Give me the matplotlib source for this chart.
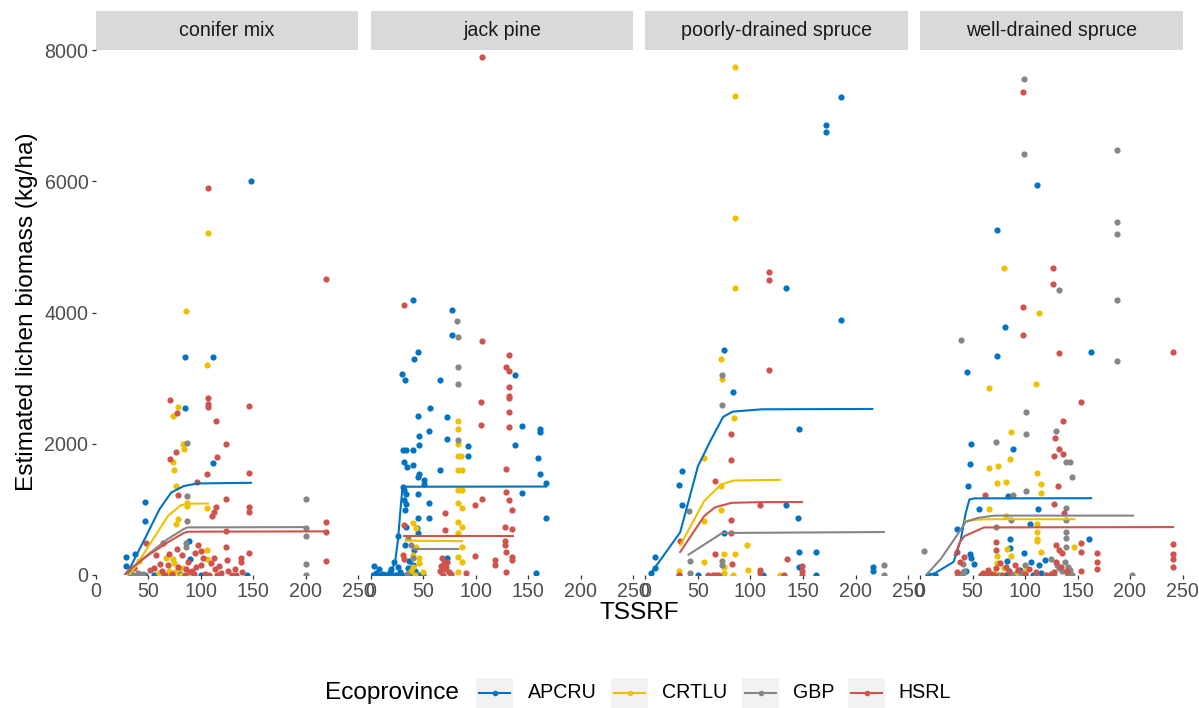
import matplotlib.pyplot as plt
from matplotlib.patches import Rectangle

plt.rcParams['font.family'] = ['Liberation Sans', 'DejaVu Sans']

# Categorias
facetas = ['conifer mix', 'jack pine', 'poorly-drained spruce', 'well-drained spruce']
provincias = ['APCRU', 'CRTLU', 'GBP', 'HSRL']
cores = ['#0073C2', '#EFC000', '#868686', '#CD534C']
x_ticks = [0, 50, 100, 150, 200, 250]
y_ticks = [0, 2000, 4000, 6000, 8000]

# ---- conifer mix: pontos (TSSRF, biomassa) ----
cm_apcru = [(148, 6000), (85, 3320), (112, 3320), (85, 2550), (112, 1710), (47, 1120), (47, 820),
            (29, 270), (38, 320), (29, 140), (89, 520), (90, 250), (47, 0), (56, 0), (73, 0),
            (144, 0), (40, 0), (100, 0), (33, 40), (62, 0), (80, 20)]
cm_crtlu = [(107, 5210), (86, 4020), (106, 3195), (79, 2560), (74, 2420), (83, 1997), (84, 1917),
            (74, 1716), (75, 1606), (77, 1355), (87, 1100), (87, 1044), (106, 1014), (79, 854),
            (77, 779), (106, 374), (106, 238), (74, 250), (75, 190), (79, 102), (83, 102), (81, 0),
            (41, 214), (67, 255), (70, 60), (72, 0), (60, 30), (76, 40)]
cm_gbp = [(87, 2010), (87, 1200), (87, 830), (86, 493), (86, 428), (200, 1160), (200, 710),
          (200, 590), (200, 165), (200, 0), (36, 0), (40, 30), (33, 0), (45, 10)]
cm_hsrl = [(107.5, 5900), (219.5, 4510), (71, 2660), (78, 2465), (107.5, 2700), (107.5, 2600),
           (107.5, 2560), (146.5, 2580), (115, 2350), (124.5, 2000), (71, 1770), (77, 1880),
           (115.5, 1795), (106, 1540), (146.5, 1560), (97, 1415), (78.6, 1225), (124.5, 1165),
           (115, 1030), (112.6, 956), (111, 896), (146.5, 1030), (146.5, 965), (219.5, 805),
           (219.5, 655), (219.5, 220), (124.5, 666), (124.5, 426), (97.5, 453), (100, 366),
           (95, 330), (146.5, 341), (139, 266), (139, 200), (133, 95), (125, 230), (114, 95),
           (112.6, 266), (100, 150), (78, 393), (64, 493), (48, 493), (57.7, 311), (61.8, 175),
           (68.7, 150), (78.7, 125), (56, 100), (37, 100), (90, 40), (85, 0), (104, 20),
           (120, 30), (130, 0), (66, 0), (73, 10), (92, 60), (108, 0), (118, 140), (140, 40),
           (52, 80), (88, 200), (96, 120), (102, 260), (110, 180), (86, 90), (94, 10), (116, 0),
           (70, 320), (82, 300), (126, 60), (134, 0), (63, 60)]

# ---- jack pine ----
jp_apcru = [(40.4, 4187), (77.4, 4040), (77.4, 3656), (44.6, 3392), (40.8, 3291), (29.6, 3063),
            (32.8, 2977), (66, 2977), (56.4, 2552), (44.6, 2430), (72.3, 2405), (55.7, 2192),
            (45.5, 2116), (72.3, 2066), (45.5, 1975), (92.4, 1960), (92.4, 1808), (30.3, 1909),
            (33.4, 1909), (39.8, 1899), (31.8, 1722), (34, 1646), (39.8, 1671), (44.6, 1494),
            (51, 1453), (51, 1392), (46, 1544), (66.2, 1605), (144, 2263), (161, 2177),
            (161, 2228), (137, 3048), (137, 1975), (159, 1782), (161.5, 1544), (166.5, 1408),
            (144, 1256), (166.5, 861), (30.3, 1342), (31.8, 1291), (33.4, 1240), (31.8, 1139),
            (33.4, 1088), (32.8, 987), (44.6, 1240), (55.7, 1099), (55, 861), (44.6, 861),
            (44, 709), (25.5, 592), (33.4, 734), (44.6, 633), (33, 456), (41.4, 380), (22.3, 203),
            (19, 90), (8, 90), (3, 130), (5, 30), (10, 0), (15, 0), (24, 0), (28, 50), (35, 100),
            (38, 0), (42, 60), (47, 0), (50, 20), (72.3, 253), (157, 25), (12, 20), (18, 40),
            (2, 0), (26, 120), (30, 0), (36, 220), (40, 150), (44, 0), (21, 0)]
jp_crtlu = [(82.8, 2354), (82.8, 2218), (82.8, 1990), (82.8, 1808), (86, 1808), (82.8, 1595),
            (87, 1595), (82.8, 1301), (87, 1301), (82.8, 1099), (87, 1028), (82.8, 810), (87, 734),
            (82.8, 633), (87, 430), (82.8, 278), (87, 203), (82.8, 51), (39.8, 795), (43, 709),
            (43, 430), (39.8, 304), (46, 253), (46, 177), (39.8, 127), (49.4, 51), (38, 60),
            (42, 0)]
jp_gbp = [(82, 3873), (82.8, 3620), (82.8, 3175), (82.8, 2911), (82.8, 2060), (39.8, 253),
          (35, 557), (38.2, 456), (34, 20)]
jp_hsrl = [(106, 7895), (31.2, 4117), (105.7, 3570), (131.5, 3357), (129, 3175), (131.5, 3114),
           (131.5, 2861), (131.5, 2734), (131.5, 2694), (131.5, 2481), (131.5, 2253), (105, 2633),
           (105, 2289), (129, 1620), (129, 1266), (132, 1139), (134.4, 987), (105.7, 1165),
           (99.7, 1063), (71, 952), (31.2, 759), (71, 684), (127.4, 734), (134.7, 694),
           (127.4, 521), (127.4, 456), (128.3, 354), (134.7, 278), (134.7, 228), (118, 228),
           (118, 152), (99.7, 294), (128.3, 51), (90.8, 35), (31, 304), (32, 250), (68, 253),
           (70, 180), (72, 120), (66, 60), (74, 40), (69, 0), (76, 20), (71, 90), (67, 140),
           (73, 200)]

# ---- poorly-drained spruce ----
pd_apcru = [(186, 7280), (172, 6860), (172, 6755), (134, 4380), (186, 3885), (74.6, 3430),
            (83, 2785), (146, 2220), (35, 1590), (31.7, 1370), (35, 1065), (134, 1065), (145, 875),
            (74.6, 640), (146, 350), (162.5, 350), (9, 280), (9, 105), (5, 30), (217, 115),
            (217, 58), (146, 115), (162.5, 0), (32, 0), (50, 0), (112, 0), (74, 0)]
pd_crtlu = [(85.7, 7740), (85.7, 7300), (85.7, 5440), (85.7, 4380), (72, 3290), (73, 2980),
            (84, 2395), (56, 1780), (72, 1355), (56, 820), (72, 995), (97, 455), (75, 320),
            (85.7, 320), (56, 205), (75, 115), (97.5, 70), (83, 0), (32, 60), (128, 0), (75, 30)]
pd_gbp = [(73, 3050), (73, 2590), (41, 975), (42, 220), (73, 220), (42, 30), (73, 145),
          (226.7, 145), (226.7, 0)]
pd_hsrl = [(118, 4610), (118, 4500), (117.5, 3125), (81.6, 2145), (81.6, 1750), (66, 1430),
           (109.5, 1065), (81.6, 835), (81.6, 640), (33, 525), (66, 320), (82, 165), (134.6, 250),
           (109.5, 75), (109.5, 30), (149, 130), (149, 58), (64, 0), (69, 0), (132, 0), (32, 0),
           (149, 0), (60, 0), (67, 0)]

# ---- well-drained spruce ----
wd_apcru = [(111, 5939), (73, 5255), (81, 3784), (73, 3340), (162.5, 3398), (45, 3095),
            (48.4, 1997), (47.7, 1687), (45.8, 1356), (88.7, 1920), (83.9, 1204), (112, 1001),
            (56.5, 1000), (104.8, 778), (35.5, 697), (161, 544), (85.5, 544), (85.5, 407),
            (47.7, 320), (49, 254), (51, 162), (99.4, 340), (83, 218), (119, 228), (105.8, 203),
            (113, 152), (8, 0), (14.5, 0), (36, 0), (40, 0), (90, 20), (100, 0), (115, 30),
            (75, 0), (85, 60), (82, 0), (44, 60), (95, 80), (108, 0)]
wd_crtlu = [(80, 4683), (113.7, 3994), (66, 2844), (110.6, 2905), (86.5, 2174), (85.5, 1768),
            (65.8, 1636), (74, 1661), (73.5, 1407), (82, 1422), (111, 1559), (115.5, 1386),
            (115.5, 1245), (66, 1001), (111, 778), (111, 661), (111, 544), (82, 900), (83, 397),
            (86.5, 295), (115.5, 345), (146.8, 432), (73.5, 295), (73.5, 188), (58, 0), (64, 10),
            (70, 30), (77, 0), (87, 20), (90, 0), (111, 520), (144, 18), (100, 60), (62, 0),
            (80, 100), (120, 0)]
wd_gbp = [(99.4, 7560), (188, 6480), (99.4, 6410), (188, 5385), (188, 5195), (132.4, 4350),
          (188, 4195), (188, 3260), (39, 3580), (100.6, 2489), (100.6, 2149), (72.6, 2032),
          (129.7, 2199), (139, 1727), (143, 1727), (144.5, 1498), (100.6, 1280), (88.7, 1220),
          (87, 835), (72.6, 736), (139, 1026), (139, 838), (139, 660), (139, 558), (139, 432),
          (3.9, 370), (141, 117), (41, 175), (42, 58), (201.6, 0), (125, 250), (130, 150),
          (135, 60), (140, 30), (145, 0), (128, 0), (132, 100), (138, 200), (36, 0), (40, 30),
          (100, 150), (96, 30), (110, 0), (88, 0), (143, 80)]
wd_hsrl = [(98.4, 7358), (127, 4672), (127, 4438), (98.4, 4088), (98.4, 3650), (132.4, 3387),
           (241, 3398), (153, 2640), (136, 2351), (129, 2092), (132, 1914), (136, 1843),
           (128, 1813), (131, 1356), (62, 1219), (128, 1082), (137, 950), (153, 483), (153, 356),
           (169, 330), (169, 203), (169, 86), (72.6, 508), (72.6, 381), (129.7, 457), (132, 381),
           (135, 330), (129.7, 203), (134, 127), (42, 279), (38, 203), (35.5, 51), (75.8, 188),
           (82, 127), (90, 152), (93.5, 76), (60, 30), (65, 80), (68, 20), (72, 100), (241, 479),
           (241, 321), (241, 245), (241, 117), (153, 58), (128, 40), (140, 60), (100, 20),
           (110, 40), (35, 350), (58, 0), (64, 0), (78, 0), (120, 0), (85, 40), (104, 90),
           (125, 10), (70, 0)]

# ---- curvas ajustadas (TSSRF, previsto) ----
cm_apcru_fit = [(28, 0), (31, 50), (47, 553), (61, 1004), (72, 1255), (84, 1355), (97, 1395), (148, 1405)]
cm_crtlu_fit = [(32, 0), (37, 100), (53, 500), (69, 900), (81, 1060), (87, 1085), (107, 1090)]
cm_gbp_fit = [(28, 0), (34, 100), (53, 350), (69, 550), (84, 700), (87.5, 725), (200, 730)]
cm_hsrl_fit = [(28, 0), (30, 50), (50, 300), (69, 500), (84, 640), (88, 660), (220, 665)]

jp_apcru_fit = [(5, 0), (18, 30), (23, 180), (26, 550), (28, 950), (30, 1300), (33, 1345), (167, 1348)]
jp_crtlu_fit = [(33, 525), (87, 515)]
jp_gbp_fit = [(40, 400), (83, 400)]
jp_hsrl_fit = [(32, 592), (135, 592)]

pd_apcru_fit = [(4, 0), (33, 650), (50, 1660), (62, 2050), (74, 2410), (83, 2490), (111, 2525), (216, 2530)]
pd_crtlu_fit = [(33, 450), (56, 1130), (72, 1380), (84, 1440), (128, 1450)]
pd_gbp_fit = [(41, 310), (73, 640), (227, 655)]
pd_hsrl_fit = [(33, 350), (56, 900), (66, 1030), (82, 1100), (110, 1110), (149, 1112)]

wd_apcru_fit = [(8, 0), (14.5, 30), (32, 200), (38.7, 530), (43.5, 940), (47, 1150), (52, 1168), (163, 1170)]
wd_crtlu_fit = [(43, 820), (55, 845), (70, 850), (147, 850)]
wd_gbp_fit = [(6, 0), (20, 250), (35, 600), (43.5, 810), (55, 870), (71, 905), (203, 905)]
wd_hsrl_fit = [(33, 300), (38, 500), (42, 590), (61, 725), (241, 730)]

pontos = [[cm_apcru, cm_crtlu, cm_gbp, cm_hsrl],
          [jp_apcru, jp_crtlu, jp_gbp, jp_hsrl],
          [pd_apcru, pd_crtlu, pd_gbp, pd_hsrl],
          [wd_apcru, wd_crtlu, wd_gbp, wd_hsrl]]
curvas = [[cm_apcru_fit, cm_crtlu_fit, cm_gbp_fit, cm_hsrl_fit],
          [jp_apcru_fit, jp_crtlu_fit, jp_gbp_fit, jp_hsrl_fit],
          [pd_apcru_fit, pd_crtlu_fit, pd_gbp_fit, pd_hsrl_fit],
          [wd_apcru_fit, wd_crtlu_fit, wd_gbp_fit, wd_hsrl_fit]]

# Figura
W, H = 1199, 708
fig = plt.figure(figsize=(W / 100, H / 100), dpi=100)
esquerdas = [95.5, 370.8, 645.5, 920]
topo, base, largura = 50, 575, 262.5
strip_h = 39

for i, faceta in enumerate(facetas):
    ax = fig.add_axes([esquerdas[i] / W, (H - base) / H, largura / W, (base - topo) / H])
    for j, prov in enumerate(provincias):
        pts = pontos[i][j]
        ax.scatter([p[0] for p in pts], [p[1] for p in pts], s=20, color=cores[j],
                   linewidths=0, zorder=2)
    for j, prov in enumerate(provincias):
        cv = curvas[i][j]
        ax.plot([p[0] for p in cv], [p[1] for p in cv], color=cores[j], lw=1.5, zorder=3)
    ax.set_xlim(0, 250)
    ax.set_ylim(0, 8000)
    for s in ax.spines.values():
        s.set_visible(False)
    ax.set_xticks(x_ticks)
    ax.set_xticklabels([str(t) for t in x_ticks])
    ax.set_yticks(y_ticks)
    if i == 0:
        ax.set_yticklabels([str(t) for t in y_ticks])
        ax.tick_params(axis='y', length=2.6, width=0.9, color='#333333',
                       labelsize=14.1, labelcolor='#4D4D4D', pad=2.5)
    else:
        ax.tick_params(axis='y', left=False, labelleft=False)
    ax.tick_params(axis='x', length=2.6, width=0.9, color='#333333',
                   labelsize=14.1, labelcolor='#4D4D4D', pad=2.5)
    # faixa do título do painel
    ax.add_patch(Rectangle((0, 1), 1, strip_h / (base - topo), transform=ax.transAxes,
                           facecolor='#D9D9D9', edgecolor='none', clip_on=False))
    ax.text(0.5, 1 + strip_h / 2 / (base - topo), faceta, transform=ax.transAxes,
            ha='center', va='center', fontsize=14.1, color='#1A1A1A')

fig.text(639 / W, 1 - 613 / H, 'TSSRF', ha='center', va='center', fontsize=17.6)
fig.text(27 / W, 1 - 312 / H, 'Estimated lichen biomass (kg/ha)', ha='center', va='center',
         rotation=90, fontsize=17.6)

# Legenda
leg = fig.add_axes([0, 0, 1, 1])
leg.set_xlim(0, W)
leg.set_ylim(H, 0)
leg.axis('off')
yc = 693
leg.text(325, yc, 'Ecoprovince', ha='left', va='center', fontsize=17.6)
chaves_x = [476.4, 611, 742, 848]
rotulos_x = [528, 662, 793, 898]
for j, prov in enumerate(provincias):
    x0 = chaves_x[j]
    leg.add_patch(Rectangle((x0, yc - 15), 37, 30, facecolor='#F2F2F2', edgecolor='none'))
    leg.plot([x0 + 3, x0 + 34], [yc, yc], color=cores[j], lw=1.5)
    leg.plot([x0 + 18.5], [yc], 'o', color=cores[j], ms=4, mew=0)
    leg.text(rotulos_x[j], yc, prov, ha='left', va='center', fontsize=14.1)

fig.savefig('out.png', dpi=100)
